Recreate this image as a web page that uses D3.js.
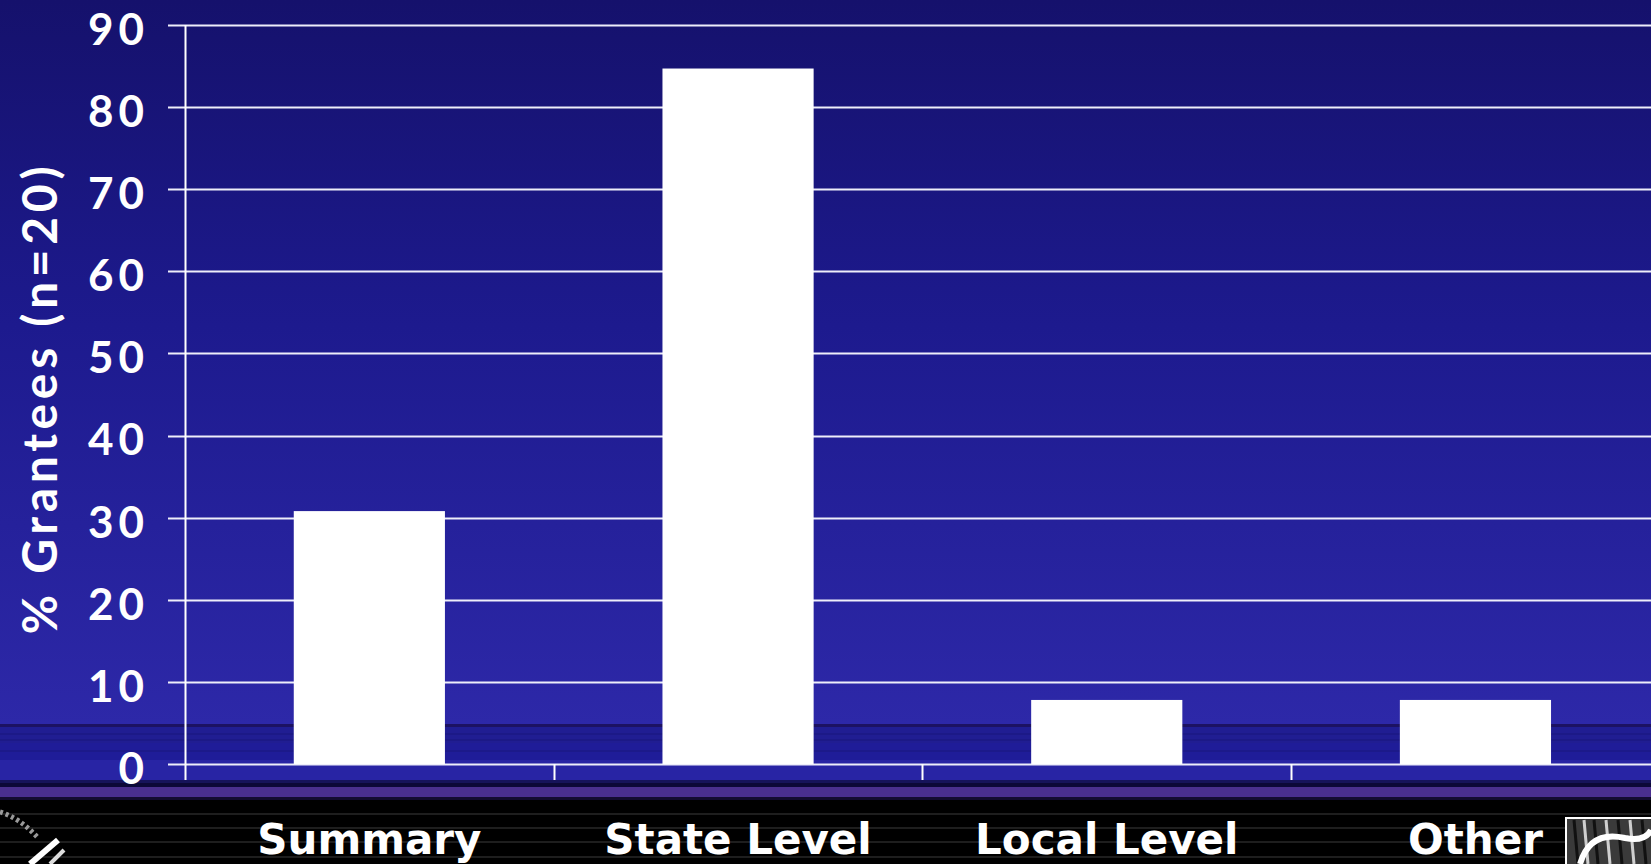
<!DOCTYPE html>
<html>
<head>
<meta charset="utf-8">
<script src="https://cdn.jsdelivr.net/npm/d3@7"></script>
<style>
html,body{margin:0;padding:0;background:#000;overflow:hidden;}
svg{display:block;}
</style>
</head>
<body>
<svg id="chart" width="1651" height="864"></svg>
<script>
// ---- data ----
const categories = ["Summary", "State Level", "Local Level", "Other"];
const values = [30.8, 84.7, 7.8, 7.8];
const yTicks = [0, 10, 20, 30, 40, 50, 60, 70, 80, 90];
const yTitle = "% Grantees (n=20)";

const W = 1651, H = 864;
const svg = d3.select("#chart");
const defs = svg.append("defs");

// background gradient
const bg = defs.append("linearGradient").attr("id","bg").attr("x1",0).attr("y1",0).attr("x2",0).attr("y2",1);
bg.append("stop").attr("offset","0%").attr("stop-color","#15116c");
bg.append("stop").attr("offset","45%").attr("stop-color","#1d1a8e");
bg.append("stop").attr("offset","100%").attr("stop-color","#2d28a8");
svg.append("rect").attr("width",W).attr("height",724).attr("fill","url(#bg)");

// bottom bands
const bands = [
  [724, 3, "#1c1262"],
  [727, 16, "#201d92"],
  [743, 17, "#1f1c98"],
  [760, 20, "#2824a4"],
  [780, 3, "#16135a"],
  [783, 4, "#0c0838"],
  [787, 10, "#4a2f8e"],
  [797, 3, "#140c30"],
  [800, 64, "#000000"]
];
bands.forEach(b => svg.append("rect").attr("x",0).attr("y",b[0]).attr("width",W).attr("height",b[1]).attr("fill",b[2]));
[733, 739, 750].forEach(y => svg.append("rect").attr("x",0).attr("y",y).attr("width",W).attr("height",2).attr("fill","#1a1880").attr("opacity",0.6));
[813, 827, 841, 856].forEach(y => svg.append("rect").attr("x",0).attr("y",y).attr("width",W).attr("height",2).attr("fill","#1e1e1e"));

// ---- scales ----
const y = d3.scaleLinear().domain([0, 90]).range([764, 25]);
const x = d3.scaleBand().domain(categories).range([185, 185 + 4 * 368.7])
  .paddingInner(0.59).paddingOuter(0.295);

// gridlines
svg.append("g").selectAll("line").data(yTicks).join("line")
  .attr("x1", 168).attr("x2", W + 20)
  .attr("y1", d => Math.round(y(d)) + 0.5).attr("y2", d => Math.round(y(d)) + 0.5)
  .attr("stroke", "#eeeefa").attr("stroke-width", 2);

// bars
svg.append("g").selectAll("rect").data(values).join("rect")
  .attr("x", (d, i) => x(categories[i]))
  .attr("y", d => y(d))
  .attr("width", x.bandwidth())
  .attr("height", d => y(0) - y(d))
  .attr("fill", "#ffffff");

// y axis
const yAxis = svg.append("g").attr("transform", "translate(185,0)")
  .call(d3.axisLeft(y).tickValues(yTicks).tickSizeInner(0).tickSizeOuter(0).tickPadding(36));
yAxis.select(".domain").remove();
yAxis.selectAll("text")
  .attr("fill", "#fff")
  .style("font-family", "Lato, 'Open Sans', sans-serif")
  .style("font-weight", "700")
  .style("font-size", "44px")
  .style("letter-spacing", "5px")
  .attr("dy", "0.44em");

// vertical axis line
svg.append("line").attr("x1", 185.5).attr("x2", 185.5).attr("y1", y(90)).attr("y2", 780)
  .attr("stroke", "#fff").attr("stroke-width", 2);

// category boundary ticks
const bounds = d3.range(1, categories.length).map(i => x.range()[0] + i * x.step());
svg.append("g").selectAll("line").data(bounds).join("line")
  .attr("x1", d => Math.round(d) + 0.5).attr("x2", d => Math.round(d) + 0.5)
  .attr("y1", y(0)).attr("y2", 780)
  .attr("stroke", "#fff").attr("stroke-width", 2);

// x axis labels
const xAxis = svg.append("g").attr("transform", "translate(0,764)")
  .call(d3.axisBottom(x).tickSize(0).tickPadding(0));
xAxis.select(".domain").remove();
xAxis.selectAll("text")
  .attr("y", 90).attr("dy", 0)
  .attr("fill", "#fff")
  .style("font-family", "'DejaVu Sans', Verdana, sans-serif")
  .style("font-weight", "700")
  .style("font-size", "42px");

// y title
svg.append("text")
  .attr("transform", "translate(57,398) rotate(-90)")
  .attr("text-anchor", "middle")
  .attr("fill", "#fff")
  .style("font-family", "Lato, 'Open Sans', sans-serif")
  .style("font-weight", "700")
  .style("font-size", "48px")
  .style("letter-spacing", "4.7px")
  .text(yTitle);

// decorative logo fragments (bottom-left)
const lg = svg.append("g");
lg.append("path").attr("d", "M0,812 Q20,818 38,838").attr("fill","none").attr("stroke","#9a9a9a").attr("stroke-width",5).attr("stroke-dasharray","3 3");
lg.append("path").attr("d", "M30,864 L58,840").attr("fill","none").attr("stroke","#fff").attr("stroke-width",6);
lg.append("path").attr("d", "M50,864 L64,850").attr("fill","none").attr("stroke","#ddd").attr("stroke-width",4);

// decorative logo box (bottom-right)
const rg = svg.append("g");
rg.append("rect").attr("x", 1566).attr("y", 818).attr("width", 90).attr("height", 50).attr("fill", "#3a3a3a").attr("stroke", "#fff").attr("stroke-width", 2);
[1574, 1584, 1594, 1606, 1618, 1630, 1642].forEach((px, i) => rg.append("line")
  .attr("x1", px).attr("x2", px + 4).attr("y1", 820).attr("y2", 864)
  .attr("stroke", i % 2 ? "#cfcfcf" : "#111").attr("stroke-width", 3));
rg.append("path").attr("d", "M1580,864 Q1590,830 1625,838 Q1645,842 1651,830")
  .attr("fill","none").attr("stroke","#fff").attr("stroke-width",6);
</script>
</body>
</html>
